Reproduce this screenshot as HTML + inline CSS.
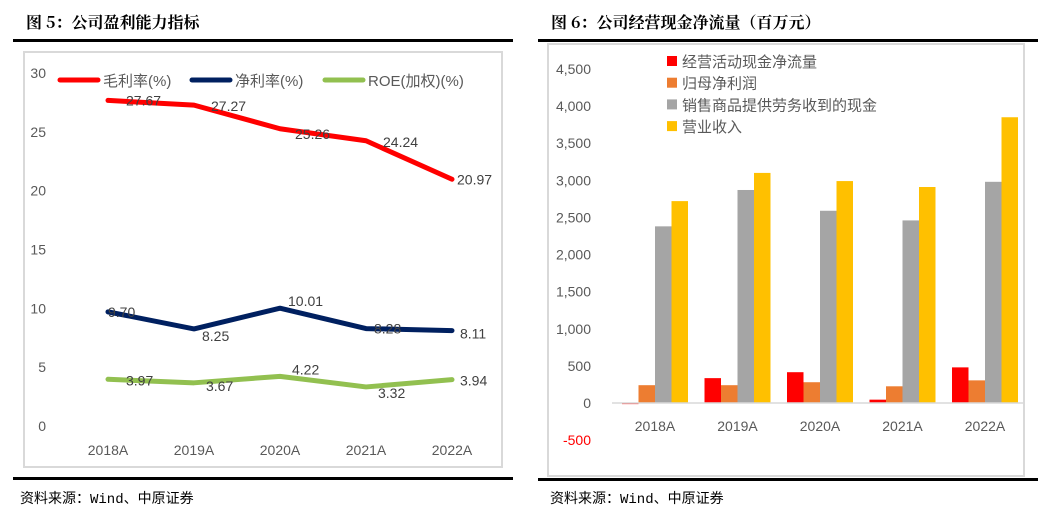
<!DOCTYPE html>
<html><head><meta charset="utf-8"><style>
body{margin:0;width:1054px;height:520px;background:#fff;overflow:hidden;font-family:"Liberation Sans","Noto Sans CJK SC",sans-serif}
svg{position:absolute;left:0;top:0}
</style></head><body>
<svg width="1054" height="520">
<g font-family="'Noto Serif CJK SC','Noto Sans CJK SC',serif" font-weight="bold" font-size="16" fill="#000">
<text x="26" y="28">图 5：公司盈利能力指标</text>
<text x="551" y="28">图 6：公司经营现金净流量（百万元）</text>
</g>
<rect x="13" y="39" width="500" height="3" fill="#000"/>
<rect x="538" y="39" width="500" height="3" fill="#000"/>
<rect x="24" y="52" width="478" height="415" fill="#fff" stroke="#d9d9d9" stroke-width="2"/>
<rect x="548" y="44" width="476" height="432" fill="#fff" stroke="#d9d9d9" stroke-width="2"/>
<rect x="13" y="477" width="500" height="3" fill="#000"/>
<rect x="538" y="478" width="500" height="3" fill="#000"/>
<g font-family="'Liberation Mono','Noto Sans CJK SC',monospace" font-size="14" fill="#000">
<text x="20" y="503">资料来源：Wind、中原证券</text>
<text x="550" y="503">资料来源：Wind、中原证券</text>
</g>
<g id="left"></g>
<g id="right"></g>
</svg>
<script>
const cats=["2018A","2019A","2020A","2021A","2022A"];
const gross=[27.67,27.27,25.26,24.24,20.97];
const net=[9.70,8.25,10.01,8.28,8.11];
const roe=[3.97,3.67,4.22,3.32,3.94];
const leftTicks=[0,5,10,15,20,25,30];
const opcf=[-15,335,415,45,480];
const np=[240,240,280,225,305];
const sales=[2380,2870,2590,2460,2980];
const rev=[2720,3100,2990,2910,3850];
const rightTicks=[-500,0,500,1000,1500,2000,2500,3000,3500,4000,4500];
const NS="http://www.w3.org/2000/svg";
function mk(p,t,a,txt){const e=document.createElementNS(NS,t);for(const k in a)e.setAttribute(k,a[k]);if(txt!==undefined)e.textContent=txt;p.appendChild(e);return e;}
const L=document.getElementById('left');
const ly=v=>426-v*(353/30), lx=i=>108+i*86;
leftTicks.forEach(t=>{const e=mk(L,'text',{x:46,y:ly(t)+5,'text-anchor':'end','font-size':14,fill:'#595959'},String(t));

});
cats.forEach((c,i)=>{const e=mk(L,'text',{x:lx(i),y:455,'text-anchor':'middle','font-size':14,fill:'#595959'},c);

});
const series=[[gross,'#ff0000','gross-margin-line',[[18,5],[17,6],[15,10],[17,6],[5,5]]],[net,'#002060','net-margin-line',[[0,5],[8,12],[8,-2],[8,5],[8,8]]],[roe,'#92c050','roe-line',[[18,6],[12,8],[12,-2],[12,11],[8,6]]]];
series.forEach(([d,col,name,off])=>{
const pl=mk(L,'polyline',{points:d.map((v,i)=>lx(i)+','+ly(v)).join(' '),fill:'none',stroke:col,'stroke-width':5,'stroke-linecap':'round','stroke-linejoin':'round'});


d.forEach((v,i)=>{const t=mk(L,'text',{x:lx(i)+off[i][0],y:ly(v)+off[i][1],'font-size':14,fill:'#404040'},v.toFixed(2));

});
});
const leg=[['#ff0000','毛利率(%)',60],['#002060','净利率(%)',192],['#92c050','ROE(加权)(%)',325]];
leg.forEach(([c,t,x])=>{const g=mk(L,'g',{});


mk(g,'line',{x1:x,y1:80,x2:x+38,y2:80,stroke:c,'stroke-width':5,'stroke-linecap':'round'});
mk(g,'text',{x:x+43,y:86,'font-size':15,fill:'#595959'},t);});
const R=document.getElementById('right');
const ry=v=>403-v*(334/4500), rx=i=>655+i*82.5;
rightTicks.forEach(t=>{const e=mk(R,'text',{x:591,y:ry(t)+5,'text-anchor':'end','font-size':14,fill:t<0?'#ff0000':'#595959'},t.toLocaleString('en-US'));

});
const bs=[[opcf,'#ff0000','bar-operating-cash-flow'],[np,'#ed7d31','bar-net-profit'],[sales,'#a5a5a5','bar-sales-cash'],[rev,'#ffc000','bar-revenue']];
const bw=16.5;
bs.forEach(([d,c,n],k)=>d.forEach((v,i)=>{const x=rx(i)-2*bw+k*bw;const y0=ry(Math.max(v,0)),y1=ry(Math.min(v,0));
const r=mk(R,'rect',{x:x,y:y0,width:bw,height:y1-y0,fill:c});

}));
const ax=mk(R,'line',{x1:612,y1:ry(0),x2:1023,y2:ry(0),stroke:'#d9d9d9','stroke-width':1.5});


cats.forEach((c,i)=>{const e=mk(R,'text',{x:rx(i),y:431,'text-anchor':'middle','font-size':14,fill:'#595959'},c);

});
const rl=[['#ff0000','经营活动现金净流量'],['#ed7d31','归母净利润'],['#a5a5a5','销售商品提供劳务收到的现金'],['#ffc000','营业收入']];
rl.forEach(([c,t],k)=>{const g=mk(R,'g',{});


const y=61+k*21.7;
mk(g,'rect',{x:667,y:y-5,width:10,height:10,fill:c});
mk(g,'text',{x:682,y:y+6,'font-size':15,fill:'#595959'},t);});
</script>
</body></html>
